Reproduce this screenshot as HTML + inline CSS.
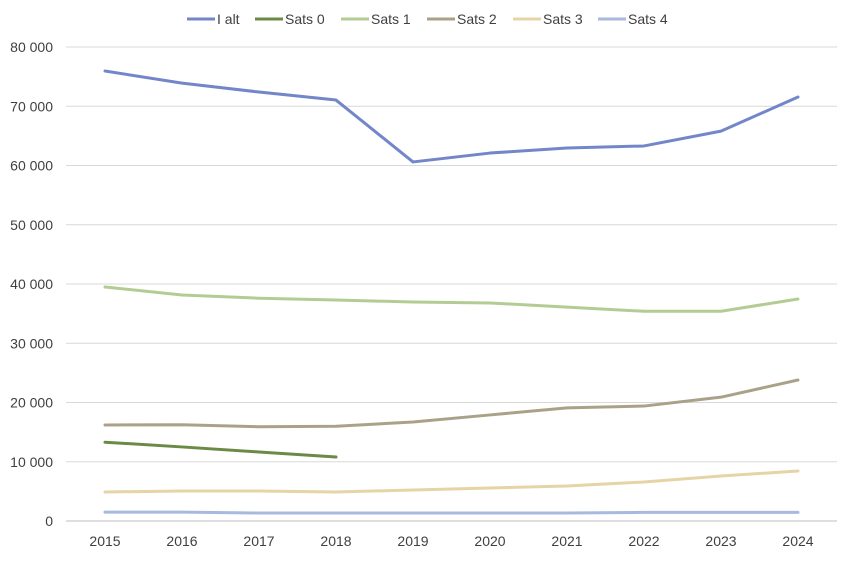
<!DOCTYPE html>
<html><head><meta charset="utf-8"><style>
body{margin:0;background:#fff;font-family:"Liberation Sans",Arial,sans-serif;}
svg text{font-family:"Liberation Sans",Arial,sans-serif;font-size:14px;fill:#404040;}
</style></head><body>
<svg id="chart" width="853" height="556" xmlns="http://www.w3.org/2000/svg">
<g id="grid"></g>
<g id="yaxis"></g>
<g id="xaxis"></g>
<g id="series"></g>
<g id="legend"></g>
</svg>
<script>
const years=[2015,2016,2017,2018,2019,2020,2021,2022,2023,2024];
const yTicks=[0,10000,20000,30000,40000,50000,60000,70000,80000];
const seriesNames=["I alt","Sats 0","Sats 1","Sats 2","Sats 3","Sats 4"];
const seriesColors=["#7286c9","#6b8a45","#b3cc94","#aaa288","#e6d4a6","#a9b8de"];
const iAlt=[75950,73900,72400,71050,60600,62100,62950,63300,65800,71560];
const sats0=[13300,12500,11650,10800,null,null,null,null,null,null];
const sats1=[39500,38150,37600,37300,36960,36800,36100,35400,35400,37470];
const sats2=[16200,16250,15900,16000,16700,17900,19100,19400,20900,23800];
const sats3=[4900,5060,5060,4900,5230,5570,5900,6580,7600,8440];
const sats4=[1500,1500,1350,1350,1350,1350,1350,1450,1450,1450];
const allSeries=[iAlt,sats0,sats1,sats2,sats3,sats4];
const NS="http://www.w3.org/2000/svg";
const x0=105,xStep=77,yBase=521,yTop=47,yMax=80000,plotL=66,plotR=837;
const xs=i=>x0+i*xStep;
const ys=v=>yBase-(v/yMax)*(yBase-yTop);
function mk(t,a,p){const e=document.createElementNS(NS,t);for(const k in a)e.setAttribute(k,a[k]);p.appendChild(e);return e;}
const grid=document.getElementById('grid'),ya=document.getElementById('yaxis'),xa=document.getElementById('xaxis'),sg=document.getElementById('series'),lg=document.getElementById('legend');
yTicks.forEach(v=>{
 const l=mk('line',{x1:plotL,x2:plotR,y1:ys(v),y2:ys(v),stroke:v===0?'#bfbfbf':'#d9d9d9','stroke-width':1},grid);
 
 
 const t=mk('text',{x:53,y:ys(v)+5,'text-anchor':'end'},ya);
 
 
 t.textContent=v===0?'0':(v/1000)+' 000';
});
years.forEach((y,i)=>{
 const t=mk('text',{x:xs(i),y:546,'text-anchor':'middle'},xa);
 
 
 t.textContent=y;
});
allSeries.forEach((d,si)=>{
 const pts=[];d.forEach((v,i)=>{if(v!==null)pts.push(xs(i)+','+ys(v));});
 const p=mk('polyline',{points:pts.join(' '),fill:'none',stroke:seriesColors[si],'stroke-width':3,'stroke-linejoin':'round','stroke-linecap':'round'},sg);
 
 
});
const legX=[187,255,341,427,513,598];
seriesNames.forEach((n,i)=>{
 const g=mk('g',{},lg);
 
 
 mk('line',{x1:legX[i],x2:legX[i]+28,y1:19,y2:19,stroke:seriesColors[i],'stroke-width':3},g);
 const t=mk('text',{x:legX[i]+30,y:24},g);t.textContent=n;
});
</script>
</body></html>
